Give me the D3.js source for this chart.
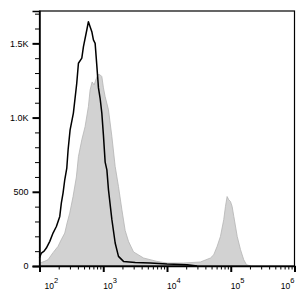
<!DOCTYPE html>
<html>
<head>
<meta charset="utf-8">
<script src="https://cdn.jsdelivr.net/npm/d3@7"></script>
<style>
  body { margin: 0; background: #fff; }
  svg { display: block; font-family: "Liberation Sans", Arial, sans-serif; }
</style>
</head>
<body>
<svg id="chart" width="307" height="297"></svg>
<script>
// y axis ticks
const yMajor = [0, 500, 1000, 1500];
const yLabels = ['0', '500', '1.0K', '1.5K'];
const yMinor = [100, 200, 300, 400, 600, 700, 800, 900, 1100, 1200, 1300, 1400, 1600, 1700];

// x axis decades (log)
const xDecades = [2, 3, 4, 5, 6];
const xMinorSteps = [2, 3, 4, 5, 6, 7, 8, 9];

// open black histogram
const blackX = [100, 107, 118, 128, 145, 163, 184, 208, 220, 234, 249, 268, 281, 302, 340, 384, 408, 461, 489,
  552, 585, 622, 662, 701, 746, 793, 841, 893, 950, 1007, 1071, 1140, 1208, 1366, 1538, 1733, 2078, 3177,
  5470, 10000, 20610, 29650];
const blackCount = [55, 87, 100, 121, 166, 222, 266, 334, 424, 491, 581, 660, 783, 917, 1030, 1231, 1366, 1400, 1478,
  1590, 1646, 1612, 1579, 1523, 1500, 1350, 1200, 1130, 1030, 880, 700, 648, 513, 312, 155, 65, 31, 24,
  20, 13, 9, 0];

// filled grey histogram
const grayX = [100, 118, 136, 163, 195, 218, 249, 271, 298, 336, 379, 408, 461, 519, 585, 622, 669, 719, 773, 832,
  893, 950, 1007, 1071, 1208, 1366, 1538, 1733, 1959, 2206, 2489, 2984, 4285, 6966, 10000, 18040, 33400,
  48050, 54100, 61100, 68900, 77600, 82600, 87700, 93100, 98900, 105100, 111700, 126300, 142300, 159900,
  176500, 204000];
const grayCount = [20, 30, 42, 90, 132, 175, 222, 290, 356, 468, 600, 737, 850, 939, 1074, 1186, 1240, 1220, 1260, 1290,
  1288, 1276, 1200, 1141, 1052, 872, 671, 536, 380, 240, 166, 95, 54, 31, 20, 20, 27,
  54, 76, 132, 199, 312, 401, 468, 446, 435, 401, 334, 199, 110, 42,
  9, 0];

const plotLeft = 39.5, plotRight = 294.5, plotTop = 11, plotBottom = 266;

const svg = d3.select('#chart');

const x = d3.scaleLog().domain([100, 1e6]).range([plotLeft, plotRight]);
const y = d3.scaleLinear().domain([0, 1718]).range([plotBottom, plotTop]);

// grey filled histogram
const grayData = grayX.map((v, i) => [v, grayCount[i]]);
svg.append('path')
  .datum(grayData)
  .attr('fill', '#d2d2d2')
  .attr('stroke', '#b4b4b4')
  .attr('stroke-width', 0.8)
  .attr('d', d3.area().x(d => x(d[0])).y0(y(0)).y1(d => y(d[1])));

// black line histogram
const blackData = blackX.map((v, i) => [v, blackCount[i]]);
svg.append('path')
  .datum(blackData)
  .attr('fill', 'none')
  .attr('stroke', '#000')
  .attr('stroke-width', 1.5)
  .attr('stroke-linejoin', 'round')
  .attr('d', d3.line().x(d => x(d[0])).y(d => y(d[1])));

// frame
svg.append('rect')
  .attr('x', plotLeft).attr('y', plotTop)
  .attr('width', plotRight - plotLeft).attr('height', plotBottom - plotTop)
  .attr('fill', 'none').attr('stroke', '#000').attr('stroke-width', 1.2);

// y axis: minor then major
svg.append('g')
  .attr('transform', `translate(${plotLeft},0)`)
  .call(d3.axisLeft(y).tickValues(yMinor).tickSize(4.5).tickFormat(''))
  .call(g => g.select('.domain').remove())
  .call(g => g.selectAll('line').attr('stroke-width', 1));

const yAxis = svg.append('g')
  .attr('transform', `translate(${plotLeft},0)`)
  .call(d3.axisLeft(y).tickValues(yMajor).tickSize(7).tickPadding(4)
    .tickFormat((d, i) => yLabels[i]));
yAxis.select('.domain').attr('stroke-width', 1.5);
yAxis.selectAll('line').attr('stroke-width', 2);
yAxis.selectAll('text').attr('font-size', 9).attr('fill', '#000')
  .attr('font-family', '"Liberation Sans", Arial, sans-serif');

// x axis: minor then major
const xMinor = [];
xDecades.slice(0, -1).forEach(d => xMinorSteps.forEach(k => xMinor.push(k * Math.pow(10, d))));

svg.append('g')
  .attr('transform', `translate(0,${plotBottom})`)
  .call(d3.axisBottom(x).tickValues(xMinor).tickSize(3.5).tickFormat(''))
  .call(g => g.select('.domain').remove())
  .call(g => g.selectAll('line').attr('stroke-width', 1));

const xMajor = xDecades.map(d => Math.pow(10, d));
const xAxis = svg.append('g')
  .attr('transform', `translate(0,${plotBottom})`)
  .call(d3.axisBottom(x).tickValues(xMajor).tickSize(6).tickFormat(''));
xAxis.select('.domain').attr('stroke-width', 1.5);
xAxis.selectAll('line').attr('stroke-width', 2);

// decade labels 10^n
const labels = svg.append('g')
  .attr('font-size', 8.5)
  .attr('fill', '#000');
xDecades.forEach((d, i) => {
  let px = x(Math.pow(10, d));
  let anchor = 'start';
  if (i === 0) px += 5;
  if (i === xDecades.length - 1) { anchor = 'end'; }
  const t = labels.append('text')
    .attr('x', px)
    .attr('y', 288.5)
    .attr('text-anchor', anchor);
  t.append('tspan').text('10');
  t.append('tspan').attr('dy', -6).attr('font-size', 7.5).text(d);
});
</script>
</body>
</html>
